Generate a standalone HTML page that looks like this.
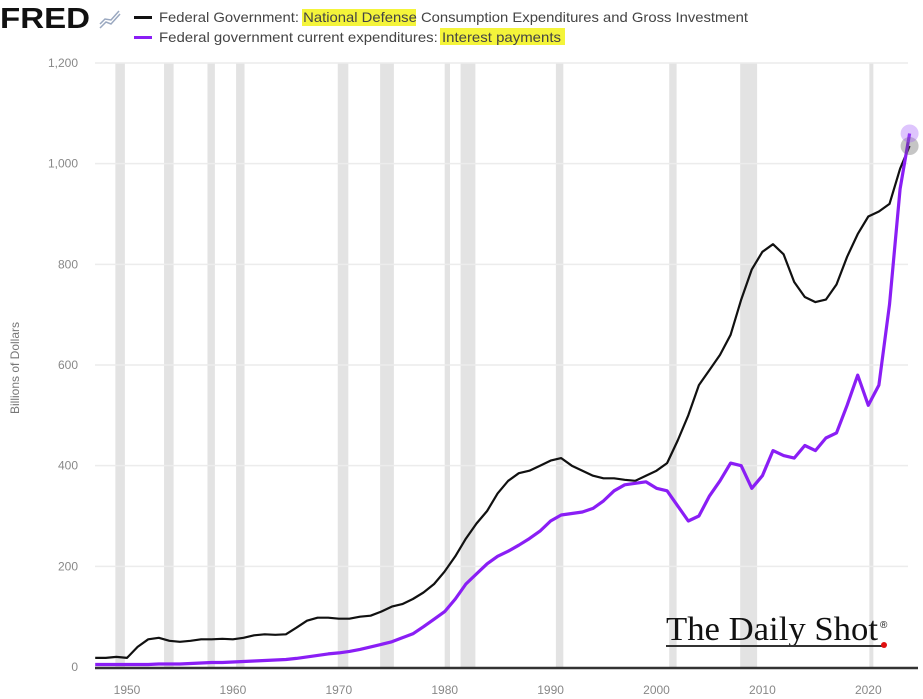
<!DOCTYPE html>
<html><head><meta charset="utf-8"><style>
body{margin:0;background:#fff;width:923px;height:699px;overflow:hidden;font-family:"Liberation Sans",sans-serif}
svg{display:block}
</style></head><body>
<svg id="c" width="923" height="699">
<g>
<text x="0" y="28" font-size="29" font-weight="bold" fill="#111" textLength="90" lengthAdjust="spacingAndGlyphs">FRED</text>
<g stroke="#9aa8c0" fill="none" stroke-width="1.5"><polyline points="100,28 106,22 111,24 120,14"/><polyline points="100,24 105,19 111,20 119,11"/></g>
<rect x="134" y="16" width="18" height="3" fill="#111"/>
<rect x="302" y="9" width="114" height="17" fill="#f4f43a"/>
<text x="159" y="22" font-size="14" fill="#444" textLength="589" lengthAdjust="spacingAndGlyphs">Federal Government: National Defense Consumption Expenditures and Gross Investment</text>
<rect x="134" y="36" width="18" height="3" fill="#8a1ef5"/>
<rect x="440" y="28" width="125" height="17" fill="#f4f43a"/>
<text x="159" y="42" font-size="14" fill="#444" textLength="402" lengthAdjust="spacingAndGlyphs">Federal government current expenditures: Interest payments</text>
</g>
<text transform="translate(19,368) rotate(-90)" text-anchor="middle" font-size="12" fill="#777">Billions of Dollars</text>
<g id="rec"></g><g id="grid"></g><g id="lines"></g>
<g>
<text x="666" y="640" font-family="Liberation Serif,serif" font-size="34" fill="#111" textLength="212" lengthAdjust="spacingAndGlyphs">The Daily Shot</text>
<text x="880" y="628" font-size="10" fill="#111">®</text>
<rect x="666" y="645" width="216" height="2" fill="#333"/>
<circle cx="884" cy="645" r="3" fill="#e01010"/>
</g>
</svg>
<script>
const years=[1947,1948,1949,1950,1951,1952,1953,1954,1955,1956,1957,1958,1959,1960,1961,1962,1963,1964,1965,1966,1967,1968,1969,1970,1971,1972,1973,1974,1975,1976,1977,1978,1979,1980,1981,1982,1983,1984,1985,1986,1987,1988,1989,1990,1991,1992,1993,1994,1995,1996,1997,1998,1999,2000,2001,2002,2003,2004,2005,2006,2007,2008,2009,2010,2011,2012,2013,2014,2015,2016,2017,2018,2019,2020,2021,2022,2023,2023.9];
const defense=[18,18,20,18,40,55,58,52,50,52,55,55,56,55,58,63,65,64,65,78,92,98,98,96,96,100,102,110,120,125,135,148,165,190,220,255,285,310,345,370,385,390,400,410,415,400,390,380,375,375,372,370,380,390,405,450,500,560,590,620,660,730,790,825,840,820,765,735,725,730,760,815,860,895,905,920,990,1035];
const interest=[5,5,5,5,5,5,6,6,6,7,8,9,9,10,11,12,13,14,15,17,20,23,26,28,31,35,40,45,50,58,66,80,95,110,135,165,185,205,220,230,242,255,270,290,302,305,308,315,330,350,362,365,368,355,350,320,290,300,340,370,405,400,355,380,430,420,415,440,430,455,465,520,580,520,560,720,950,1060];
const recessions=[[1948.9,1949.8],[1953.5,1954.4],[1957.6,1958.3],[1960.3,1961.1],[1969.9,1970.9],[1973.9,1975.2],[1980,1980.5],[1981.5,1982.9],[1990.5,1991.2],[2001.2,2001.9],[2007.9,2009.5],[2020.1,2020.4]];
const yTicks=[0,200,400,600,800,1000,1200];
const xTicks=[1950,1960,1970,1980,1990,2000,2010,2020];
const X0=95,X1=908,Y0=667,Y1=63;
const sx=t=>127+(t-1950)*10.59;
const sy=v=>Y0-(v/1200)*(Y0-Y1);
const NS='http://www.w3.org/2000/svg';
function mk(tag,attrs,parent){const e=document.createElementNS(NS,tag);for(const k in attrs)e.setAttribute(k,attrs[k]);document.getElementById(parent).appendChild(e);return e;}
recessions.forEach(r=>{
 const e=mk('rect',{x:sx(r[0]),y:Y1,width:Math.max(sx(r[1])-sx(r[0]),4),height:Y0-Y1,fill:'#e3e3e3'},'rec');
 
 
});
yTicks.forEach(v=>{
 if(v>0){const g=mk('line',{x1:X0,x2:X1,y1:sy(v),y2:sy(v),stroke:'#ececec','stroke-width':1.5},'grid');
 
 }
 const t=mk('text',{x:78,y:sy(v)+4,'text-anchor':'end','font-size':12,fill:'#888'},'grid');
 t.textContent=v.toLocaleString('en-US');
 
 
});
xTicks.forEach(v=>{
 const t=mk('text',{x:sx(v),y:694,'text-anchor':'middle','font-size':12,fill:'#888'},'grid');
 t.textContent=v;
 
 
});
const ax=mk('line',{x1:X0,x2:918,y1:Y0+1,y2:Y0+1,stroke:'#333','stroke-width':2.5},'grid');


function line(vals,color,w,name){
 const d=vals.map((v,i)=>(i?'L':'M')+sx(years[i]).toFixed(1)+','+sy(v).toFixed(1)).join('');
 const p=mk('path',{d:d,fill:'none',stroke:color,'stroke-width':w,'stroke-linejoin':'round'},'lines');
 
 
}
line(defense,'#111',2.2,'series-defense');
line(interest,'#8a1ef5',3.2,'series-interest');
const n=years.length-1;
const h1=mk('circle',{cx:sx(years[n]),cy:sy(defense[n]),r:9,fill:'rgba(90,90,90,0.35)'},'lines');


const h2=mk('circle',{cx:sx(years[n]),cy:sy(interest[n]),r:9,fill:'rgba(160,90,250,0.35)'},'lines');


</script>
</body></html>
